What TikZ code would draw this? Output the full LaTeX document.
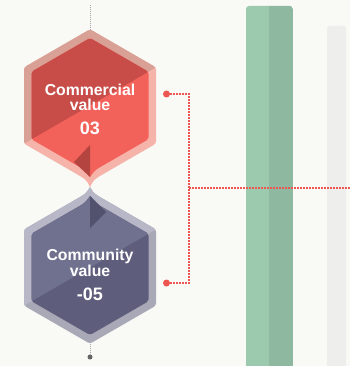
\documentclass[tikz,border=0pt]{standalone}
\usepackage{fontspec}
\setmainfont{Liberation Sans}
\usetikzlibrary{calc}

\definecolor{paper}{HTML}{F9F9F6}
\definecolor{redDark}{HTML}{C84D49}
\definecolor{redLight}{HTML}{F2625A}
\definecolor{redHaloD}{HTML}{D9A096}
\definecolor{redHaloL}{HTML}{F6B3A9}
\definecolor{redFold}{HTML}{B4443F}
\definecolor{blueLight}{HTML}{70708F}
\definecolor{blueDark}{HTML}{5E5E7C}
\definecolor{blueHaloL}{HTML}{B8B7C7}
\definecolor{blueHaloD}{HTML}{A9A8B7}
\definecolor{blueFold}{HTML}{52526E}
\definecolor{linkRed}{HTML}{EC5550}
\definecolor{barLight}{HTML}{9CCAAE}
\definecolor{barDark}{HTML}{8EB8A0}
\definecolor{barGray}{HTML}{EEEEEC}

\def\redOuter{[rounded corners=2.5pt] (90,29.3) -- (156,67.4) -- (156,143.6) -- (106,172.5)
  [sharp corners] .. controls (94,179.4) .. (90,187) .. controls (86,179.4) .. (74,172.5)
  [rounded corners=2.5pt] -- (24,143.6) -- (24,67.4) -- cycle}
\def\redInner{[rounded corners=2pt] (90,38) -- (148.5,71.75) -- (148.5,139.25) -- (104,164.9)
  [sharp corners] .. controls (95,170.1) .. (90,177) .. controls (85,170.1) .. (76,164.9)
  [rounded corners=2pt] -- (31.5,139.25) -- (31.5,71.75) -- cycle}
\def\blueOuter{[rounded corners=2.5pt] (90,343.7) -- (156,305.6) -- (156,229.4) -- (106,200.5)
  [sharp corners] .. controls (94,193.6) .. (90,187) .. controls (86,193.6) .. (74,200.5)
  [rounded corners=2.5pt] -- (24,229.4) -- (24,305.6) -- cycle}
\def\blueInner{[rounded corners=2pt] (90,335) -- (148.5,301.25) -- (148.5,233.75) -- (104,208.1)
  [sharp corners] .. controls (95,202.9) .. (90,196) .. controls (85,202.9) .. (76,208.1)
  [rounded corners=2pt] -- (31.5,233.75) -- (31.5,301.25) -- cycle}

\begin{document}
\begin{tikzpicture}[
    x=1pt, y=-1pt,
    hextext/.style={
      text=white, anchor=base, inner sep=0pt,
      font=\fontsize{15.8}{16}\selectfont\bfseries
    },
    hexnum/.style={
      hextext, font=\fontsize{18}{18}\selectfont\bfseries
    },
    rdot/.style={
      circle, fill=linkRed, inner sep=0pt, minimum size=7pt
    },
    gdot/.style={
      circle, fill=black!60, inner sep=0pt, minimum size=5pt
    },
    link/.style={
      linkRed, line width=1.5pt, dash pattern=on 1.5pt off 1.5pt
    },
    guide/.style={
      black!35, line width=0.8pt, dash pattern=on 1pt off 1pt
    }
  ]
    \path[use as bounding box, fill=paper] (0,0) rectangle (350,366);

    \fill[barGray, rounded corners=2pt] (327,26) rectangle (346,380);
    \begin{scope}
      \clip[rounded corners=3pt] (246,6) rectangle (293,380);
      \fill[barLight] (246,0) rectangle (269,380);
      \fill[barDark] (269,0) rectangle (293,380);
    \end{scope}

    \coordinate (rc) at (90,105.5);
    \coordinate (bc) at (90,267.5);

    \fill[redHaloL] \redOuter;
    \begin{scope}
      \clip \redOuter;
      \fill[redHaloD] (rc) ++(150:140) -- ++(-30:280) -- ++(-120:140) -- ++(150:280) -- cycle;
    \end{scope}
    \fill[redLight] \redInner;
    \begin{scope}
      \clip \redInner;
      \fill[redDark] (rc) ++(150:140) -- ++(-30:280) -- ++(-120:140) -- ++(150:280) -- cycle;
    \end{scope}
    \fill[redFold] (90,145) -- (74,162) -- (90,177) -- cycle;

    \fill[blueHaloD] \blueOuter;
    \begin{scope}
      \clip \blueOuter;
      \fill[blueHaloL] (bc) ++(150:140) -- ++(-30:280) -- ++(-120:140) -- ++(150:280) -- cycle;
    \end{scope}
    \fill[blueDark] \blueInner;
    \begin{scope}
      \clip \blueInner;
      \fill[blueLight] (bc) ++(150:140) -- ++(-30:280) -- ++(-120:140) -- ++(150:280) -- cycle;
    \end{scope}
    \fill[blueFold] (90,196) -- (106,212) -- (90,228) -- cycle;

    \node[hextext] (cname) at (90,95.7) {Commercial};
    \node[hextext] (cval) at (90,111) {value};
    \node[hexnum] (cnum) at (90,134.3) {03};

    \node[hextext] (mname) at (90,260.7) {Community};
    \node[hextext] (mval) at (90,276) {value};
    \node[hexnum] (mnum) at (90,300) {-05};

    \coordinate (ctop) at (90,5);
    \coordinate (chex) at (90,30);
    \draw[guide] (ctop) -- (chex);
    \coordinate (mhex) at (90,344);
    \node[gdot] (mend) at (90,357) {};
    \draw[guide] (mhex) -- (mend);

    \node[rdot] (cdot) at (166.5,94) {};
    \node[rdot] (mdot) at (166.5,283) {};
    \coordinate (split) at (189,188);
    \coordinate (edge) at (350,188);
    \draw[link] (cdot) -| (split) |- (mdot);
    \draw[link] (split) -- (edge);
  \end{tikzpicture}
\end{document}
